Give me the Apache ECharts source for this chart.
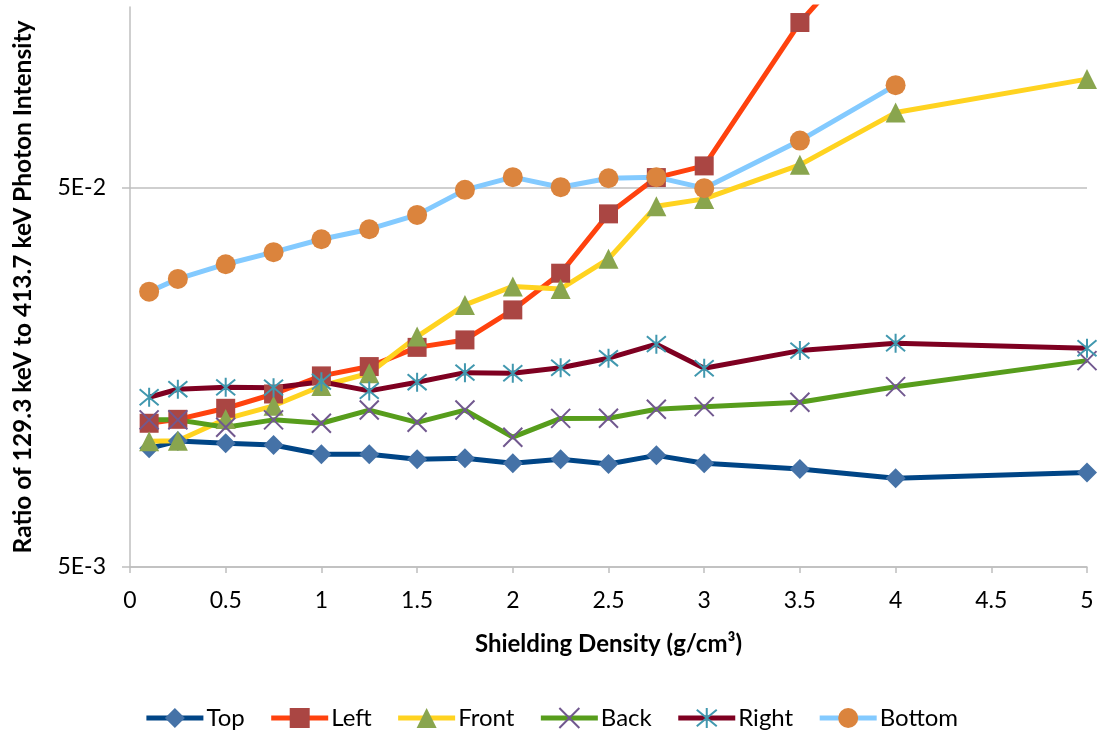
<!DOCTYPE html>
<html>
<head>
<meta charset="utf-8">
<script src="https://cdn.jsdelivr.net/npm/echarts@6/dist/echarts.min.js"></script>
<style>
html,body{margin:0;padding:0;background:#fff;}
#chart{width:1102px;height:731px;}
</style>
</head>
<body>
<div id="chart"></div>
<script>
// Shielding density (g/cm3)
const density = [0.1, 0.25, 0.5, 0.75, 1, 1.25, 1.5, 1.75, 2, 2.25, 2.5, 2.75, 3, 3.5, 4, 5];
const seriesNames = ['Top', 'Left', 'Front', 'Back', 'Right', 'Bottom'];
const topVals    = [0.01028, 0.01075, 0.0106, 0.01049, 0.00992, 0.00992, 0.00962, 0.00968, 0.00939, 0.00962, 0.00935, 0.00985, 0.00939, 0.00907, 0.00857, 0.00887];
const leftVals   = [0.01197, 0.01226, 0.01311, 0.0143, 0.01596, 0.01689, 0.01898, 0.01986, 0.02383, 0.02978, 0.0427, 0.05323, 0.05714, 0.1365, 0.2626, null];
const frontVals  = [0.01073, 0.01077, 0.01229, 0.01331, 0.01501, 0.01622, 0.02026, 0.02456, 0.02748, 0.02707, 0.03249, 0.04474, 0.04677, 0.0575, 0.079, 0.0968];
const backVals   = [0.01222, 0.01222, 0.01168, 0.01222, 0.01197, 0.01297, 0.01204, 0.01297, 0.011, 0.01233, 0.01234, 0.01303, 0.01324, 0.0136, 0.01495, 0.01751];
const rightVals  = [0.01402, 0.01472, 0.01489, 0.01486, 0.01541, 0.01457, 0.01536, 0.01628, 0.01622, 0.01677, 0.01777, 0.01935, 0.01672, 0.01861, 0.01946, 0.01888];
const bottomVals = [0.02662, 0.02877, 0.03145, 0.03384, 0.0366, 0.0389, 0.04244, 0.0494, 0.05336, 0.05021, 0.05303, 0.05336, 0.04991, 0.06664, 0.0933, null];
const yTicks = [0.005, 0.05];
const xTitle = 'Shielding Density (g/cm³)';
const yTitle = 'Ratio of 129.3 keV to 413.7 keV Photon Intensity';

const FONT = 'Lato, "Open Sans", sans-serif';
const pair = (vals) => density.map((d, i) => [d, vals[i]]).filter(p => p[1] != null);

const styles = [
  {line: '#004586', mark: '#4572A7', symbol: 'diamond', size: 20},
  {line: '#FF420E', mark: '#AA4643', symbol: 'rect', size: 19},
  {line: '#FFD320', mark: '#89A54E', symbol: 'triangle', size: 20},
  {line: '#579D1C', mark: '#71588F', symbol: 'path://M0,0L20,20M20,0L0,20', size: 19, stroke: true},
  {line: '#7E0021', mark: '#4198AF', symbol: 'path://M0,0L20,20M20,0L0,20M10,-2L10,22', size: 19, stroke: true},
  {line: '#83CAFF', mark: '#DB843D', symbol: 'circle', size: 20}
];
const dataSets = [topVals, leftVals, frontVals, backVals, rightVals, bottomVals];

const series = seriesNames.map((name, i) => {
  const s = styles[i];
  return {
    name: name,
    type: 'line',
    data: pair(dataSets[i]),
    symbol: s.symbol,
    symbolSize: s.size,
    showAllSymbol: true,
    clip: true,
    lineStyle: {color: s.line, width: 5},
    itemStyle: s.stroke
      ? {color: s.mark, borderColor: s.mark, borderWidth: 2}
      : {color: s.mark, borderWidth: 0},
    emphasis: {disabled: true},
    animation: false
  };
});

const chart = echarts.init(document.getElementById('chart'));
chart.setOption({
  backgroundColor: '#fff',
  animation: false,
  grid: {left: 130, right: 15, top: 7, bottom: 164, containLabel: false},
  xAxis: {
    type: 'value', min: 0, max: 5, interval: 0.5,
    name: xTitle, nameLocation: 'middle', nameGap: 65,
    nameTextStyle: {fontFamily: FONT, fontSize: 24, fontWeight: 'bold', color: '#000'},
    axisLine: {show: true, lineStyle: {color: '#bfbfbf', width: 1.5}},
    axisTick: {show: true, length: 6, lineStyle: {color: '#bfbfbf', width: 1.5}},
    axisLabel: {fontFamily: FONT, fontSize: 23, color: '#000', margin: 22},
    splitLine: {show: false}
  },
  yAxis: {
    type: 'log', logBase: 10, min: 0.005, max: 0.15,
    name: yTitle, nameLocation: 'middle', nameGap: 94,
    nameTextStyle: {fontFamily: FONT, fontSize: 24.5, fontWeight: 'bold', color: '#000'},
    axisLine: {show: true, lineStyle: {color: '#bfbfbf', width: 1.5}},
    axisTick: {show: true, length: 8, customValues: yTicks, lineStyle: {color: '#bfbfbf', width: 1.5}},
    axisLabel: {fontFamily: FONT, fontSize: 23, color: '#000', margin: 24, customValues: yTicks,
      formatter: (v) => v.toExponential(0).toUpperCase().replace('+', '')},
    splitLine: {show: true, lineStyle: {color: '#bfbfbf', width: 1.5}}
  },
  legend: {
    left: 'center', top: 701,
    itemWidth: 57, itemHeight: 25, itemGap: 24,
    lineStyle: {width: 5},
    textStyle: {fontFamily: FONT, fontSize: 24, color: '#000', padding: [0, 0, 0, -2]},
    data: seriesNames
  },
  series: series
});
</script>
</body>
</html>
